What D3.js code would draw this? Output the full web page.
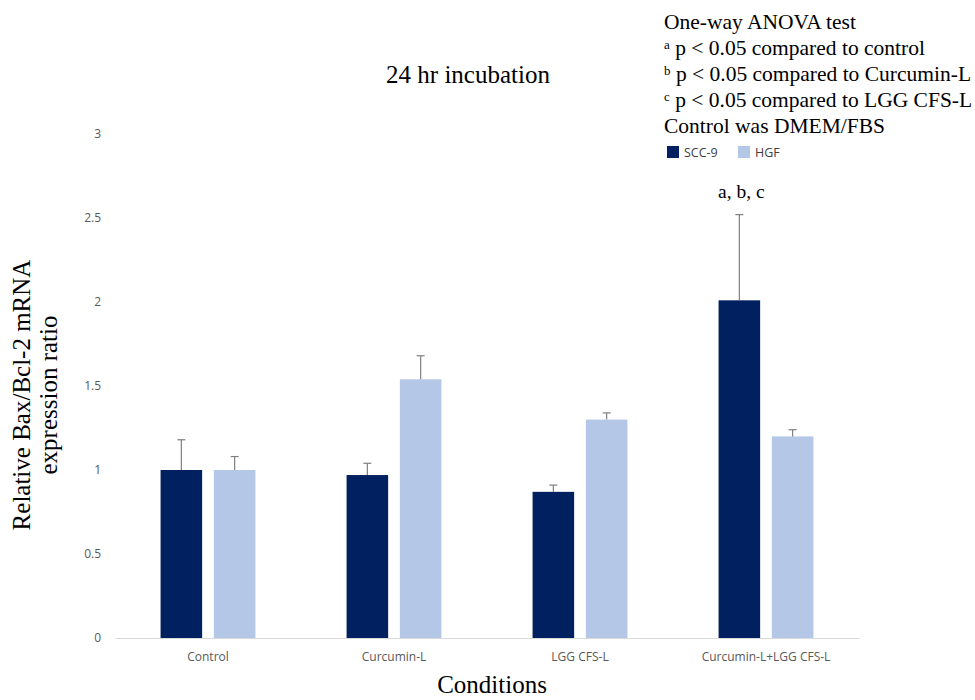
<!DOCTYPE html>
<html>
<head>
<meta charset="utf-8">
<script src="https://cdn.jsdelivr.net/npm/d3@7"></script>
<style>
  body { margin: 0; background: #fff; }
  .tick-label { font-family: "Open Sans", "Liberation Sans", sans-serif; font-size: 12px; fill: #595959; }
  .serif { font-family: "Liberation Serif", "DejaVu Serif", serif; fill: #000; }
</style>
</head>
<body>
<div id="chart-area"></div>
<script>
const conditions = ["Control", "Curcumin-L", "LGG CFS-L", "Curcumin-L+LGG CFS-L"]
const seriesNames = ["SCC-9", "HGF"]
const scc9Values = [1.0, 0.97, 0.87, 2.01]
const scc9Errors = [0.18, 0.07, 0.04, 0.51]
const hgfValues = [1.0, 1.54, 1.30, 1.20]
const hgfErrors = [0.08, 0.14, 0.04, 0.04]
const yTicks = [0, 0.5, 1, 1.5, 2, 2.5, 3]
const noteLines = [
  {sup: "", text: "One-way ANOVA test"},
  {sup: "a", text: " p < 0.05 compared to control"},
  {sup: "b", text: " p < 0.05 compared to Curcumin-L"},
  {sup: "c", text: " p < 0.05 compared to LGG CFS-L"},
  {sup: "", text: "Control was DMEM/FBS"},
]
const colors = ["#002060", "#b4c7e7"]

async function drawChart() {

  // 1. Access data
  const dataset = conditions.map((c, i) => ({
    condition: c,
    bars: [
      {series: seriesNames[0], value: scc9Values[i], err: scc9Errors[i]},
      {series: seriesNames[1], value: hgfValues[i], err: hgfErrors[i]},
    ]
  }))

  // 2. Create chart dimensions
  let dimensions = {
    width: 975,
    height: 700,
    margin: { top: 134, right: 116, bottom: 62, left: 115 },
  }
  dimensions.boundedWidth = dimensions.width - dimensions.margin.left - dimensions.margin.right
  dimensions.boundedHeight = dimensions.height - dimensions.margin.top - dimensions.margin.bottom

  // 3. Draw canvas
  const wrapper = d3.select("#chart-area")
    .append("svg")
      .attr("width", dimensions.width)
      .attr("height", dimensions.height)

  const bounds = wrapper.append("g")
      .attr("transform", `translate(${dimensions.margin.left},${dimensions.margin.top})`)

  // 4. Create scales
  const xScale = d3.scaleBand()
    .domain(conditions)
    .range([0, dimensions.boundedWidth])
    .paddingInner(0.49)
    .paddingOuter(0.245)

  const xSeries = d3.scaleBand()
    .domain(seriesNames)
    .range([0, xScale.bandwidth()])
    .paddingInner(0.22)

  const yScale = d3.scaleLinear()
    .domain([0, 3])
    .range([dimensions.boundedHeight, 0])

  const colorScale = d3.scaleOrdinal().domain(seriesNames).range(colors)

  // 5. Draw data
  const groups = bounds.selectAll(".group")
    .data(dataset)
    .join("g")
      .attr("transform", d => `translate(${xScale(d.condition)},0)`)

  groups.selectAll("rect")
    .data(d => d.bars)
    .join("rect")
      .attr("x", d => xSeries(d.series))
      .attr("width", xSeries.bandwidth())
      .attr("y", d => yScale(d.value))
      .attr("height", d => yScale(0) - yScale(d.value))
      .attr("fill", d => colorScale(d.series))

  const errs = groups.selectAll(".err")
    .data(d => d.bars)
    .join("g")
      .attr("class", "err")
      .attr("stroke", "#7f7f7f")
      .attr("stroke-width", 1.2)

  errs.append("line")
    .attr("x1", d => xSeries(d.series) + xSeries.bandwidth() / 2)
    .attr("x2", d => xSeries(d.series) + xSeries.bandwidth() / 2)
    .attr("y1", d => yScale(d.value))
    .attr("y2", d => yScale(d.value + d.err))

  errs.append("line")
    .attr("x1", d => xSeries(d.series) + xSeries.bandwidth() / 2 - 4)
    .attr("x2", d => xSeries(d.series) + xSeries.bandwidth() / 2 + 4)
    .attr("y1", d => yScale(d.value + d.err))
    .attr("y2", d => yScale(d.value + d.err))

  // significance label on the combined treatment
  const last = dataset[3].bars[0]
  bounds.append("text")
    .attr("class", "serif")
    .attr("x", xScale(dataset[3].condition) + xSeries(last.series) + xSeries.bandwidth() / 2 + 2)
    .attr("y", yScale(last.value + last.err) - 17)
    .attr("text-anchor", "middle")
    .style("font-size", "19.5px")
    .text("a, b, c")

  // 6. Draw peripherals
  const yAxis = d3.axisLeft(yScale).tickValues(yTicks).tickSize(0).tickPadding(14).tickFormat(d3.format("~g"))
  const yAxisG = bounds.append("g").call(yAxis)
  yAxisG.select(".domain").remove()
  yAxisG.selectAll("text").attr("class", "tick-label").attr("fill", null)

  const xAxis = d3.axisBottom(xScale).tickSize(0).tickPadding(14)
  const xAxisG = bounds.append("g")
    .attr("transform", `translate(0,${dimensions.boundedHeight})`)
    .call(xAxis)
  xAxisG.select(".domain").attr("stroke", "#d9d9d9").attr("stroke-width", 1.2)
  xAxisG.selectAll("text").attr("class", "tick-label").attr("fill", null)

  wrapper.append("text")
    .attr("class", "serif")
    .attr("x", 468)
    .attr("y", 83)
    .attr("text-anchor", "middle")
    .style("font-size", "25px")
    .text("24 hr incubation")

  wrapper.append("text")
    .attr("class", "serif")
    .attr("x", 492)
    .attr("y", 693)
    .attr("text-anchor", "middle")
    .style("font-size", "25px")
    .text("Conditions")

  const yLabel = wrapper.append("text")
    .attr("class", "serif")
    .attr("transform", "translate(30,395) rotate(-90)")
    .attr("text-anchor", "middle")
    .style("font-size", "25px")
  yLabel.append("tspan").attr("x", 0).attr("dy", 0).text("Relative Bax/Bcl-2 mRNA")
  yLabel.append("tspan").attr("x", 0).attr("dy", 27).text("expression ratio")

  // notes in the corner
  const notes = wrapper.append("g").attr("transform", "translate(664,0)")
  noteLines.forEach((d, i) => {
    const t = notes.append("text")
      .attr("class", "serif")
      .attr("y", 29 + i * 26)
      .style("font-size", "21.5px")
    if (d.sup) {
      t.append("tspan").text(d.sup).attr("dy", -6).style("font-size", "13px")
      t.append("tspan").text(d.text).attr("dy", 6)
    } else {
      t.text(d.text)
    }
  })

  const legend = wrapper.append("g").attr("transform", "translate(667,146)")
  const legendItems = legend.selectAll("g")
    .data(seriesNames)
    .join("g")
      .attr("transform", (d, i) => `translate(${i * 71},0)`)
  legendItems.append("rect")
    .attr("width", 12)
    .attr("height", 12)
    .attr("fill", d => colorScale(d))
  legendItems.append("text")
    .attr("class", "tick-label")
    .attr("x", 17)
    .attr("y", 10.5)
    .style("font-size", "12.5px")
    .style("fill", "#404040")
    .text(d => d)

  // 7. Set up interactions

}
drawChart()
</script>
</body>
</html>
